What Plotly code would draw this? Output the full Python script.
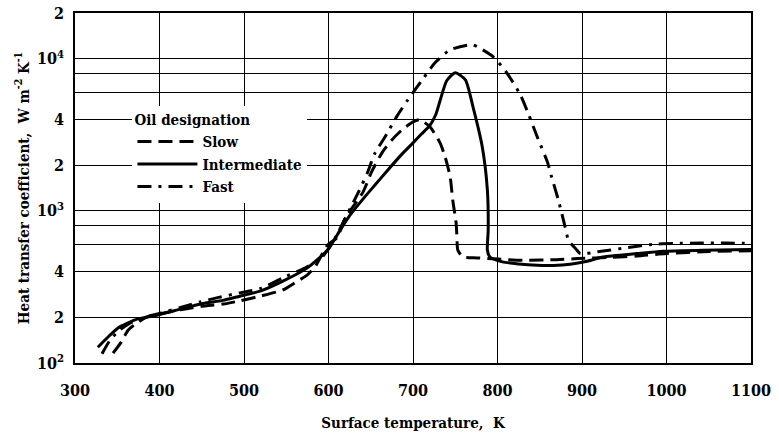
import plotly.graph_objects as go

# ---- data (temperature K, heat-transfer coefficient W m-2 K-1) ----
slow_T = [345, 355, 363, 375, 383, 400, 425, 450, 475, 495, 520, 546, 560, 575, 584, 599, 610,
          620, 641, 651, 664, 675, 687, 700, 708, 720, 732, 738, 744, 747, 751, 752, 753, 759,
          776, 800, 830, 870, 895, 935, 965, 1000, 1050, 1100]
slow_h = [116, 138, 165, 186, 198, 210, 224, 236, 244, 256, 276, 302, 336, 380, 428, 597, 664,
          900, 1334, 1805, 2444, 2930, 3410, 3850, 3970, 3570, 2800, 2266, 1674, 1181, 834, 675, 554, 498,
          491, 482, 474, 478, 486, 495, 505, 525, 540, 548]

inter_T = [327, 340, 351, 371, 385, 398, 425, 450, 475, 495, 520, 546, 575, 599, 614, 625,
           641, 655, 670, 685, 700, 710, 720, 727, 732, 740, 750, 762, 771, 782, 788, 789, 788, 791,
           806, 825, 847, 866, 886, 906, 925, 965, 996, 1043, 1100]
inter_h = [127, 150, 170, 192, 201, 207, 226, 245, 258, 275, 298, 345, 422, 554, 750, 930,
           1200, 1480, 1850, 2300, 2800, 3200, 3650, 4300, 5300, 7200, 8100, 7275, 4830, 2630, 1374, 750, 554, 498,
           462, 448, 439, 438, 446, 467, 498, 524, 543, 551, 558]

fast_T = [332, 341, 352, 365, 380, 400, 425, 448, 470, 495, 521, 546, 572, 590, 605, 623, 635,
          646, 655, 667, 682, 694, 711, 726, 744, 770, 779, 795, 811, 827, 837, 847, 859, 864,
          872, 880, 884, 893, 898, 925, 955, 980, 1010, 1040, 1070, 1100]
fast_h = [115, 140, 163, 183, 198, 212, 232, 252, 270, 289, 311, 363, 421, 480, 620, 970, 1313,
          1775, 2400, 3070, 4280, 5380, 7275, 9415, 11460, 12370, 11750, 10310, 8090, 5800, 4280, 3070, 2100, 1674,
          1181, 785, 641, 560, 524, 545, 575, 600, 612, 614, 614, 612]

series_names = ["Slow", "Intermediate", "Fast"]

x_ticks = [300, 400, 500, 600, 700, 800, 900, 1000, 1100]
x_ticktext = ["300", "400", "500", "600", "700", "800", "900", "1000", "1100"]
y_ticks = [100, 200, 400, 1000, 2000, 4000, 10000, 20000]
y_ticktext = ["10<sup>2</sup>", "2", "4", "10<sup>3</sup>", "2", "4", "10<sup>4</sup>", "2"]
y_minor_grid = [600, 800, 6000, 8000]

FONT = "DejaVu Serif Condensed, DejaVu Serif, serif"


def f(size, bold=True):
    return dict(family=FONT, size=size, color="black", weight="bold" if bold else "normal")


fig = go.Figure()
fig.add_trace(go.Scatter(x=slow_T, y=slow_h, name=series_names[0], mode="lines",
                         line=dict(color="black", width=3, dash="14px,7px", shape="spline", smoothing=0.6)))
fig.add_trace(go.Scatter(x=inter_T, y=inter_h, name=series_names[1], mode="lines",
                         line=dict(color="black", width=3, shape="spline", smoothing=0.6)))
fig.add_trace(go.Scatter(x=fast_T, y=fast_h, name=series_names[2], mode="lines",
                         line=dict(color="black", width=3, dash="14px,7px,3px,7px", shape="spline", smoothing=0.6)))

fig.update_layout(
    width=779, height=434,
    margin=dict(l=75, r=28, t=13, b=71, autoexpand=False),
    paper_bgcolor="white", plot_bgcolor="white",
    font=f(16),
    showlegend=True,
    hovermode=False,
    legend=dict(
        title=dict(text="Oil designation", font=f(15)),
        font=f(15),
        x=0.085, y=0.735, xanchor="left", yanchor="top",
        bgcolor="white", borderwidth=0, itemwidth=60, tracegroupgap=0,
    ),
    xaxis=dict(
        range=[300, 1100], tickvals=x_ticks, ticktext=x_ticktext, automargin=False,
        showgrid=True, gridcolor="black", gridwidth=1,
        showline=True, linecolor="black", linewidth=1.5, mirror=True,
        ticks="", ticklabelstandoff=12, zeroline=False,
        tickfont=f(16),
        title=dict(text="Surface temperature,  K", font=f(15), standoff=19),
    ),
    yaxis=dict(
        type="log", range=[2, 4.30103], tickvals=y_ticks, ticktext=y_ticktext, automargin=False,
        showgrid=True, gridcolor="black", gridwidth=1,
        minor=dict(tickvals=y_minor_grid, showgrid=True, gridcolor="black", gridwidth=1, ticks=""),
        showline=True, linecolor="black", linewidth=1.5, mirror=True,
        ticks="", ticklabelstandoff=6, zeroline=False,
        tickfont=f(16),
        title=dict(text="Heat transfer coefficient,  W m<sup>-2</sup> K<sup>-1</sup>",
                   font=f(15), standoff=4),
    ),
)

fig.write_html("out.html", config={"displayModeBar": False},
               post_script="document.body.style.margin='0';")
